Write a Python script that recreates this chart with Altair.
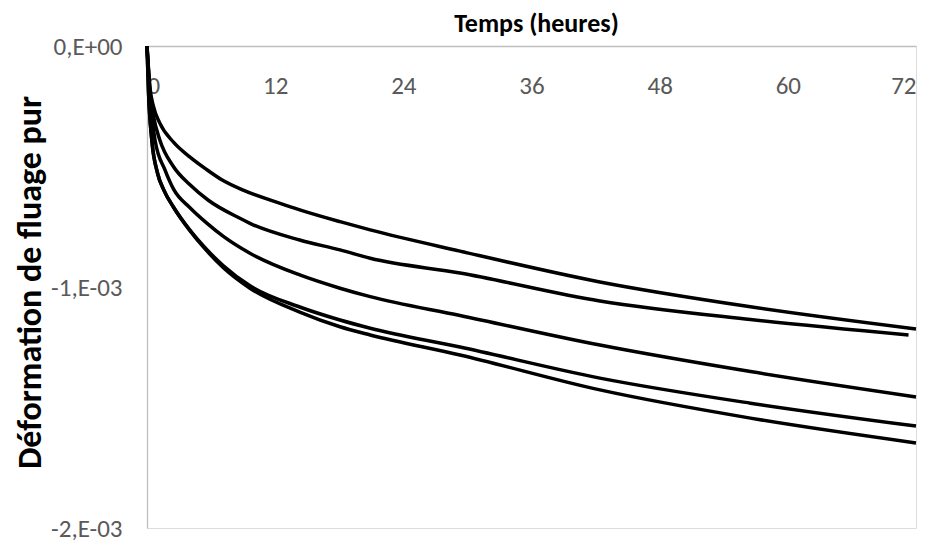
import altair as alt
import pandas as pd

# Time (hours) and creep strain (x1e-3), per curve
t_A = [0, 0.3, 0.6, 1.2, 2.5, 4.0, 5.5, 7.0, 9.0, 12.4, 14.3, 18.07, 20.9, 29.3, 42.4, 56.5, 72]
v_A = [0, -0.18, -0.25, -0.32, -0.40, -0.46, -0.51, -0.555, -0.598, -0.652, -0.68, -0.729, -0.763, -0.851, -0.979, -1.082, -1.174]

t_B = [0, 0.3, 0.6, 1.2, 2.47, 4.0, 5.74, 8.7, 9.64, 14.3, 18.07, 20.9, 29.3, 42.4, 56.5, 71.3]
v_B = [0, -0.2, -0.29, -0.39, -0.50, -0.575, -0.64, -0.715, -0.736, -0.805, -0.846, -0.881, -0.942, -1.058, -1.135, -1.199]

t_C = [0, 0.3, 0.75, 1.69, 2.5, 4.0, 5.6, 7.15, 9.64, 14.3, 18.07, 20.9, 29.3, 42.4, 56.5, 72]
v_C = [0, -0.22, -0.39, -0.515, -0.595, -0.67, -0.735, -0.79, -0.86, -0.95, -1.005, -1.04, -1.118, -1.241, -1.351, -1.456]

t_D = [0, 0.15, 0.45, 1.0, 1.6, 2.5, 4.0, 5.5, 7.15, 9.64, 14.3, 18.07, 20.9, 29.3, 42.4, 56.5, 72]
v_D = [0, -0.2, -0.39, -0.53, -0.60, -0.67, -0.763, -0.84, -0.912, -0.995, -1.083, -1.137, -1.171, -1.249, -1.378, -1.482, -1.577]

t_E = [0, 0.15, 0.45, 1.0, 1.6, 2.5, 4.0, 5.5, 7.15, 9.64, 14.3, 18.07, 20.9, 29.3, 42.4, 56.5, 72]
v_E = [0, -0.2, -0.39, -0.53, -0.60, -0.67, -0.765, -0.845, -0.92, -1.005, -1.104, -1.165, -1.199, -1.282, -1.427, -1.544, -1.647]

x_ticks = [0, 12, 24, 36, 48, 60, 72]
y_ticks = [0, -0.001, -0.002]
y_tick_labels = ["0,E+00", "-1,E-03", "-2,E-03"]

series = {"A": (t_A, v_A), "B": (t_B, v_B), "C": (t_C, v_C), "D": (t_D, v_D), "E": (t_E, v_E)}
rows = []
for name, (ts, vs) in series.items():
    for i, (t, v) in enumerate(zip(ts, vs)):
        rows.append({"serie": name, "t": t, "v": v * 1e-3, "i": i})
df = pd.DataFrame(rows)

label_expr = " : ".join(
    f"abs(datum.value - ({val})) < 1e-9 ? '{lab}'" for val, lab in zip(y_ticks, y_tick_labels)
) + " : ''"

FONT = "Carlito, Calibri, Lato, sans-serif"

chart = alt.Chart(df).mark_line(
    color="black", strokeWidth=3.5, interpolate="monotone"
).encode(
    x=alt.X(
        "t:Q",
        scale=alt.Scale(domain=[0, 72], nice=False, zero=False),
        axis=alt.Axis(
            orient="top", values=x_ticks, title="Temps (heures)",
            grid=False, ticks=False, tickSize=0,
            domainColor="#bfbfbf", domainWidth=1.3,
            labelFont=FONT, labelFontSize=25, labelColor="#595959",
            labelPadding=-47, labelBaseline="alphabetic",
            titleFont=FONT, titleFontSize=26, titleFontWeight="bold", titleColor="#000000",
            titleX=389, titleY=-15, titleBaseline="alphabetic", titleAlign="center",
        ),
    ),
    y=alt.Y(
        "v:Q",
        scale=alt.Scale(domain=[-0.002, 0], nice=False, zero=False),
        axis=alt.Axis(
            values=y_ticks, labelExpr=label_expr, title="Déformation de fluage pur",
            grid=False, ticks=False, tickSize=0,
            domainColor="#bfbfbf", domainWidth=1.3,
            labelFont=FONT, labelFontSize=25, labelColor="#595959",
            labelPadding=25, labelBaseline="middle", labelAlign="right",
            titleFont=FONT, titleFontSize=34, titleFontWeight="bold", titleColor="#000000",
            titleX=-107, titleY=236, titleBaseline="alphabetic", titleAlign="center", titleAngle=270,
        ),
    ),
    detail="serie:N",
    order="i:Q",
).properties(
    width=769, height=482,
    autosize=alt.AutoSizeParams(type="none"),
    padding={"left": 139, "top": 38, "right": 10, "bottom": 14},
).configure_view(stroke=None).configure(background="white")

chart.save("out.html", embed_options={"renderer": "svg", "actions": False})
